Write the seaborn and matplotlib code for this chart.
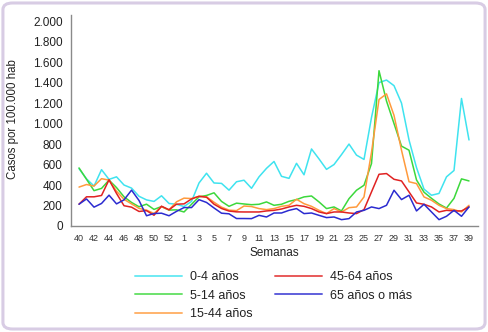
import numpy as np
import pandas as pd
import matplotlib
matplotlib.use("Agg")
import matplotlib.pyplot as plt
import seaborn as sns
from matplotlib.patches import FancyBboxPatch

# ---------------- data ----------------
weeks = list(range(40, 54)) + list(range(1, 40))  # 53 epidemiological weeks

groups = ["0-4 años", "5-14 años", "15-44 años", "45-64 años", "65 años o más"]

g_0_4 = [560, 460, 390, 550, 455, 480, 400, 370, 290, 255, 240, 295, 220, 212,
         190, 240, 420, 515, 420, 416, 350, 432, 447, 368, 480, 563, 630, 485,
         465, 612, 500, 752, 655, 553, 600, 697, 800, 692, 650, 1060, 1400, 1425,
         1370, 1200, 840, 570, 360, 300, 318, 480, 542, 1245, 840]
g_5_14 = [567, 456, 345, 367, 448, 375, 285, 230, 188, 213, 162, 190, 155, 158,
          137, 212, 285, 298, 324, 240, 192, 223, 215, 208, 212, 235, 202, 212,
          241, 258, 284, 293, 235, 170, 186, 147, 267, 349, 398, 610, 1516, 1220,
          1000, 780, 740, 450, 330, 270, 215, 175, 270, 460, 440]
g_15_44 = [380, 405, 390, 462, 448, 340, 260, 216, 172, 155, 122, 190, 158, 236,
           272, 268, 290, 285, 232, 184, 155, 150, 195, 190, 170, 160, 170, 192,
           202, 261, 218, 192, 153, 121, 170, 137, 179, 186, 284, 720, 1235, 1290,
           1080, 740, 432, 414, 284, 251, 202, 170, 160, 137, 202]
g_45_64 = [213, 285, 285, 298, 451, 318, 198, 184, 142, 150, 105, 193, 158, 213,
           216, 264, 290, 281, 213, 171, 146, 138, 137, 137, 137, 147, 153, 166,
           186, 202, 192, 170, 137, 121, 137, 137, 127, 121, 160, 333, 505, 512,
           456, 440, 333, 225, 212, 186, 137, 153, 147, 147, 186]
g_65 = [213, 264, 184, 220, 301, 216, 255, 350, 249, 100, 122, 125, 100, 143,
        180, 180, 257, 230, 176, 125, 119, 73, 73, 72, 104, 88, 127, 127,
        153, 170, 121, 127, 104, 82, 88, 62, 72, 137, 153, 186, 170, 202,
        349, 258, 300, 147, 212, 137, 62, 95, 153, 95, 186]

series = [g_0_4, g_5_14, g_15_44, g_45_64, g_65]
colors = ["#3fe3ef", "#3cd83c", "#ff9a3c", "#e02222", "#2b2bd0"]

y_ticks = list(range(0, 2001, 200))

# ---------------- long table ----------------
pos = list(range(len(weeks)))
df = pd.DataFrame({
    "pos": pos * len(groups),
    "valor": sum(series, []),
    "grupo": [g for g in groups for _ in pos],
})

# ---------------- figure ----------------
sns.set_style("white")
plt.rcParams["font.family"] = ["Liberation Sans", "DejaVu Sans"]

fig = plt.figure(figsize=(4.88, 3.32), dpi=100)
fig.patch.set_facecolor("white")
ax = fig.add_axes([71 / 488, 1 - 226 / 332, 407 / 488, (226 - 15) / 332])

sns.lineplot(data=df, x="pos", y="valor", hue="grupo", hue_order=groups,
             palette=dict(zip(groups, colors)), lw=1.1, ax=ax)

ax.set_xlim(-1.07, len(weeks) - 1 + 1.2)
ax.set_ylim(0, 2060)

ax.set_yticks(y_ticks)
ax.set_yticklabels([f"{v:,}".replace(",", ".") for v in y_ticks])
xt = list(range(0, len(weeks), 2))
ax.set_xticks(xt)
ax.set_xticklabels([str(weeks[i]) for i in xt])

ax.tick_params(axis="both", direction="out", length=4, width=0.8,
               color="#8a8a8a", labelcolor="#222222")
ax.tick_params(axis="y", labelsize=8.5, pad=2)
ax.tick_params(axis="x", labelsize=6.5, pad=2, labelcolor="#333333")

sns.despine(ax=ax)
for s in ("left", "bottom"):
    ax.spines[s].set_color("#8a8a8a")
    ax.spines[s].set_linewidth(1.0)

ax.set_xlabel("Semanas", fontsize=8.5, color="#222222")
ax.set_ylabel("Casos por 100.000 hab", fontsize=8.3, color="#222222")
ax.xaxis.set_label_coords(0.5, (226 - 247) / 211)
ax.yaxis.set_label_coords((19 - 71) / 407, (226 - 119) / 211)

sns.move_legend(ax, loc="upper left", bbox_to_anchor=(129 / 488, 1 - 265 / 332),
                bbox_transform=fig.transFigure, ncol=2, frameon=False, title=None,
                fontsize=9, handlelength=3.76, handletextpad=0.64,
                labelspacing=0.52, columnspacing=1.8, borderpad=0)
leg = ax.get_legend()
for t in leg.get_texts():
    t.set_color("#222222")
for h in leg.get_lines():
    h.set_linewidth(1.4)
    h.set_alpha(0.75)

frame = FancyBboxPatch((0.006, 0.009), 0.988, 0.982,
                       boxstyle="round,pad=0,rounding_size=0.02",
                       transform=fig.transFigure, fc="none", ec="#d8cce4", lw=2.2)
fig.patches.append(frame)

fig.savefig("out.png", dpi=100)
